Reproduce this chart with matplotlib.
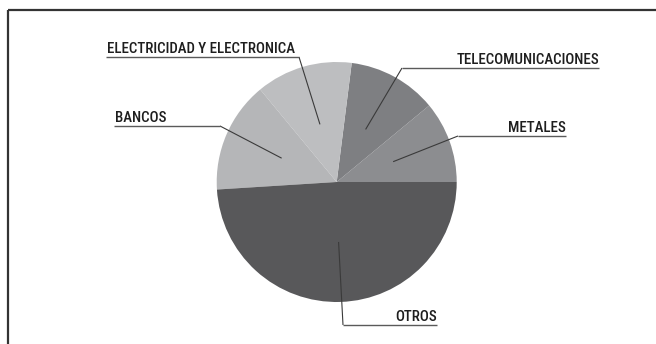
import matplotlib
matplotlib.use("Agg")
import matplotlib.pyplot as plt
import numpy as np
import os
from matplotlib import font_manager
from matplotlib.font_manager import FontProperties

# Data
categories = ["METALES", "TELECOMUNICACIONES", "ELECTRICIDAD Y ELECTRONICA", "BANCOS", "OTROS"]
values = [11, 12, 13, 15, 49]
colors = ["#8c8d90", "#7e7f82", "#bdbec0", "#b5b6b8", "#58585a"]

# look for a condensed / narrow font file
files = [f.fname for f in font_manager.fontManager.ttflist]
prefs = ["RobotoCondensed-Medium", "RobotoCondensed-Regular", "LiberationSansNarrow-Regular",
         "OpenSans_Condensed-SemiBold", "OpenSans_Condensed-Regular", "OpenSans-CondensedSemiBold",
         "DejaVuSansCondensed.ttf", "DejaVuSansCondensed-Bold"]
fp = None
for p in prefs:
    for f in files:
        if p.lower() in os.path.basename(f).lower():
            fp = FontProperties(fname=f)
            break
    if fp is not None:
        break
if fp is None:
    fp = FontProperties(family=["Roboto", "DejaVu Sans"], weight="medium")

W, H = 656, 344
fig = plt.figure(figsize=(W / 100, H / 100), dpi=100)
ax = fig.add_axes([0, 0, 1, 1])

cx, cy, r = 336.7, H - 182.0, 120
wedges, _ = ax.pie(values, colors=colors, startangle=0, counterclock=True,
                   center=(cx, cy), radius=r, frame=True,
                   wedgeprops=dict(linewidth=0))
ax.set_xlim(0, W)
ax.set_ylim(0, H)
ax.set_aspect("equal")
ax.axis("off")

# label layout: (elbow x, line y (px from top), underline x0, x1, text alignment)
layout = {
    "METALES": (458, 136, 458, 566, "right"),
    "TELECOMUNICACIONES": (402, 68, 402, 599, "right"),
    "ELECTRICIDAD Y ELECTRONICA": (299, 57, 106, 299, "left"),
    "BANCOS": (220, 126, 114, 220, "left"),
    "OTROS": (343, 325, 343, 437, "right"),
}

# scale font so the longest label is ~195 px wide
renderer = fig.canvas.get_renderer()
probe = ax.text(0, 0, "ELECTRICIDAD Y ELECTRONICA", fontproperties=fp, fontsize=10)
wpx = probe.get_window_extent(renderer).width
probe.remove()
fsize = min(10.7, 10 * 195.0 / wpx)

for w, name in zip(wedges, categories):
    mid = np.deg2rad((w.theta1 + w.theta2) / 2)
    px = cx + 0.5 * r * np.cos(mid)
    py = cy + 0.5 * r * np.sin(mid)
    ex, ly, x0, x1, ha = layout[name]
    ly = H - ly
    ax.plot([px, ex], [py, ly], color="#3a3a3a", lw=0.8, solid_capstyle="butt")
    ax.plot([x0, x1], [ly, ly], color="#5a5a5a", lw=1.0, solid_capstyle="butt")
    tx = x0 + 1 if ha == "left" else x1
    ax.text(tx, ly + 4, name, ha=ha, va="baseline", fontsize=fsize,
            fontproperties=fp, color="#1e1e1e")

# frame: top and left lines
ax.plot([8, W], [H - 10, H - 10], color="#333333", lw=1.6, solid_capstyle="butt")
ax.plot([8, 8], [H - 10, 0], color="#333333", lw=1.6, solid_capstyle="butt")

fig.savefig("out.png", dpi=100)
